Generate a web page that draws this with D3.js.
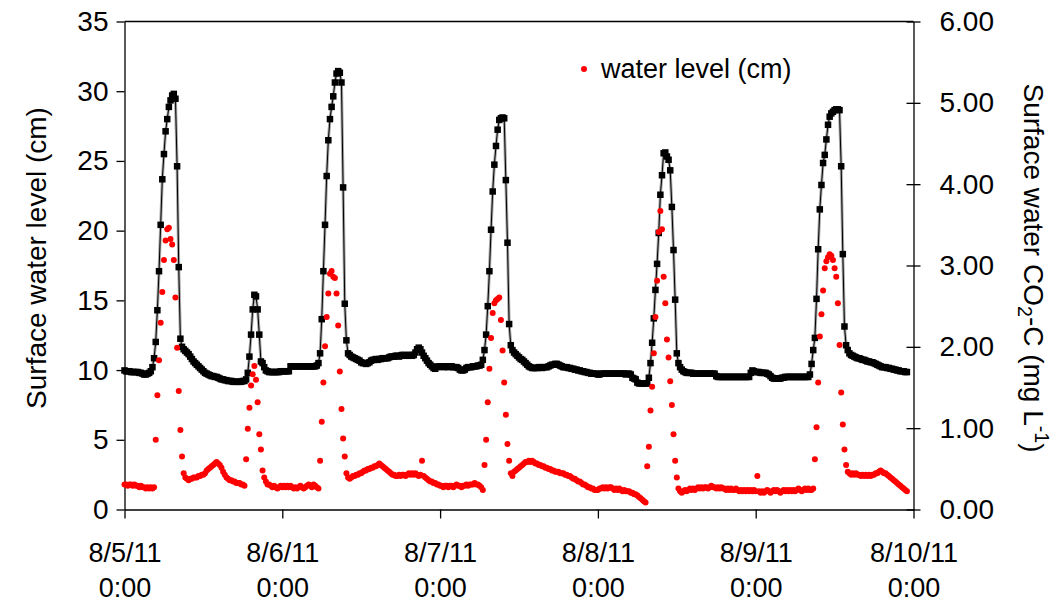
<!DOCTYPE html>
<html><head><meta charset="utf-8">
<script src="https://cdn.jsdelivr.net/npm/d3@7"></script>
<style>
body{margin:0;background:#fff}
text{font-family:"Liberation Sans",Arial,sans-serif;fill:#000}
</style>
</head><body>
<svg id="chart" width="1061" height="603"></svg>
<script>
// ---- data (15-minute readings from 8/5/11 0:00) ----
const startDate = new Date(2011, 7, 5, 0, 0);
const endDate = new Date(2011, 7, 10, 0, 0);
const stepMinutes = 15;
const dateLabels = ["8/5/11","8/6/11","8/7/11","8/8/11","8/9/11","8/10/11"];
const timeLabels = ["0:00","0:00","0:00","0:00","0:00","0:00"];
const leftTicks = [0,5,10,15,20,25,30,35];
const rightTicks = [0,1,2,3,4,5,6];
const legendLabel = "water level (cm)";

// surface water level (cm) – left axis, red dots
const waterLevel = [
1.8,1.8,1.7,1.8,1.8,1.7,1.8,1.7,1.7,1.6,
1.7,1.6,1.6,1.5,1.6,1.5,1.6,1.5,1.6,5.0,
8.2,10.7,13.4,15.6,17.9,19.3,20.1,20.2,19.4,19.0,
17.9,15.2,11.6,8.5,5.7,3.8,2.6,2.3,2.2,2.1,
2.2,2.2,2.3,2.3,2.3,2.4,2.4,2.5,2.5,2.6,
2.8,2.9,3.0,3.1,3.2,3.3,3.4,3.3,3.2,3.0,
2.7,2.5,2.3,2.2,2.1,2.1,2.0,2.0,1.9,1.9,
1.9,1.8,1.8,1.7,3.6,5.8,7.3,8.9,9.7,10.3,
9.3,7.7,5.4,4.3,2.8,2.3,2.0,1.8,1.8,1.7,
1.6,1.7,1.6,1.5,1.6,1.7,1.6,1.7,1.6,1.7,
1.6,1.7,1.6,1.5,1.6,1.5,1.6,1.7,1.6,1.5,
1.6,1.7,1.8,1.7,1.6,1.8,1.7,1.6,1.5,3.5,
6.3,9.1,11.7,13.8,15.5,16.9,17.1,16.7,16.6,15.5,
13.2,9.9,7.2,5.1,3.8,2.6,2.3,2.2,2.3,2.4,
2.4,2.5,2.5,2.6,2.6,2.7,2.8,2.8,2.9,2.9,
3.0,3.0,3.1,3.1,3.2,3.3,3.2,3.1,3.0,2.9,
2.8,2.7,2.6,2.5,2.5,2.4,2.4,2.5,2.4,2.5,
2.5,2.4,2.5,2.6,2.5,2.6,2.5,2.6,2.5,2.4,
2.5,3.5,2.4,2.3,2.2,2.1,2.0,2.0,1.9,1.9,
1.8,1.8,1.7,1.7,1.6,1.7,1.7,1.6,1.7,1.7,
1.6,1.7,1.8,1.7,1.7,1.6,1.7,1.7,1.8,1.7,
1.8,1.8,1.8,1.9,1.8,1.8,1.7,1.6,1.4,3.2,
5.0,7.7,10.1,12.3,14.1,14.8,15.0,15.1,15.2,13.6,
11.4,9.1,6.8,4.7,3.5,2.6,2.4,2.7,2.8,2.9,
3.0,3.1,3.2,3.3,3.4,3.4,3.5,3.4,3.5,3.4,
3.3,3.3,3.2,3.2,3.1,3.1,3.0,3.0,2.9,2.9,
2.8,2.8,2.7,2.7,2.7,2.6,2.6,2.6,2.5,2.5,
2.4,2.4,2.3,2.2,2.2,2.1,2.0,2.0,1.9,1.8,
1.8,1.7,1.6,1.6,1.5,1.5,1.4,1.4,1.4,1.5,
1.5,1.6,1.5,1.6,1.5,1.6,1.6,1.5,1.4,1.5,
1.4,1.5,1.4,1.3,1.4,1.3,1.3,1.3,1.2,1.2,
1.1,1.1,1.0,0.9,0.8,0.7,0.6,0.5,3.1,4.5,
7.1,8.8,11.2,13.8,16.4,19.9,21.4,20.1,16.7,14.8,
12.2,10.9,9.2,7.5,5.4,3.5,2.3,1.5,1.3,1.2,
1.3,1.4,1.3,1.4,1.5,1.4,1.5,1.4,1.5,1.6,
1.5,1.6,1.5,1.6,1.6,1.5,1.6,1.7,1.6,1.6,
1.5,1.6,1.5,1.6,1.5,1.5,1.4,1.5,1.4,1.5,
1.4,1.4,1.5,1.4,1.3,1.4,1.3,1.4,1.3,1.4,
1.3,1.4,1.3,1.4,1.3,2.4,1.3,1.2,1.3,1.2,
1.3,1.4,1.3,1.2,1.3,1.4,1.3,1.4,1.3,1.2,
1.3,1.4,1.3,1.4,1.3,1.4,1.3,1.4,1.3,1.4,
1.5,1.4,1.3,1.4,1.5,1.4,1.5,1.4,1.4,1.5,
3.6,5.9,9.1,12.4,14.0,15.7,17.3,17.8,18.1,18.3,
18.2,17.9,17.3,16.7,14.8,11.8,8.4,6.1,4.3,3.2,
2.7,2.6,2.5,2.6,2.5,2.6,2.5,2.5,2.4,2.5,
2.4,2.5,2.4,2.5,2.4,2.5,2.5,2.6,2.6,2.7,
2.8,2.7,2.6,2.6,2.5,2.4,2.3,2.2,2.1,2.0,
1.9,1.8,1.7,1.6,1.5,1.4,1.3
];

// surface water CO2-C (mg L-1) – right axis, black squares
const co2C = [
1.71,1.70,1.70,1.70,1.69,1.69,1.69,1.69,1.69,1.68,
1.68,1.67,1.66,1.66,1.67,1.68,1.70,1.75,1.86,2.06,
2.45,2.93,3.50,4.06,4.37,4.65,4.80,4.95,5.03,5.09,
5.11,5.05,4.22,2.98,2.10,2.00,1.97,1.95,1.93,1.91,
1.88,1.85,1.82,1.80,1.78,1.76,1.74,1.72,1.70,1.68,
1.67,1.66,1.65,1.64,1.64,1.63,1.63,1.62,1.61,1.60,
1.60,1.59,1.59,1.58,1.58,1.58,1.57,1.57,1.57,1.57,
1.57,1.57,1.58,1.58,1.60,1.68,1.88,2.15,2.46,2.64,
2.62,2.46,2.15,1.82,1.80,1.75,1.71,1.70,1.69,1.69,
1.69,1.69,1.69,1.69,1.69,1.70,1.70,1.70,1.70,1.70,
1.70,1.76,1.76,1.76,1.76,1.76,1.76,1.76,1.76,1.76,
1.76,1.76,1.76,1.76,1.76,1.76,1.76,1.77,1.80,1.92,
2.34,2.93,3.50,4.10,4.54,4.80,4.95,5.08,5.25,5.36,
5.39,5.37,5.25,3.96,2.53,2.08,1.92,1.90,1.88,1.87,
1.86,1.85,1.84,1.83,1.81,1.80,1.80,1.79,1.80,1.81,
1.83,1.84,1.84,1.85,1.84,1.85,1.85,1.86,1.86,1.86,
1.86,1.87,1.88,1.88,1.88,1.89,1.89,1.88,1.89,1.90,
1.90,1.89,1.89,1.90,1.90,1.89,1.90,1.93,1.97,1.99,
1.97,1.93,1.89,1.86,1.83,1.80,1.78,1.76,1.74,1.73,
1.75,1.76,1.76,1.76,1.75,1.76,1.76,1.75,1.76,1.76,
1.75,1.75,1.75,1.74,1.72,1.71,1.71,1.72,1.74,1.75,
1.75,1.75,1.76,1.76,1.76,1.77,1.77,1.78,1.84,1.96,
2.15,2.50,2.93,3.44,3.91,4.24,4.47,4.67,4.79,4.81,
4.82,4.81,4.05,3.28,2.28,2.02,1.96,1.93,1.91,1.89,
1.87,1.85,1.84,1.82,1.80,1.78,1.76,1.75,1.74,1.74,
1.74,1.74,1.75,1.75,1.74,1.75,1.75,1.75,1.76,1.77,
1.78,1.78,1.79,1.79,1.78,1.77,1.76,1.75,1.75,1.75,
1.74,1.74,1.73,1.73,1.72,1.72,1.71,1.71,1.70,1.70,
1.69,1.69,1.68,1.68,1.67,1.67,1.67,1.67,1.66,1.66,
1.67,1.67,1.67,1.67,1.67,1.67,1.67,1.67,1.67,1.67,
1.67,1.67,1.67,1.67,1.67,1.66,1.67,1.67,1.66,1.62,
1.61,1.60,1.56,1.55,1.55,1.55,1.55,1.55,1.55,1.62,
1.80,2.05,2.35,2.70,3.02,3.40,3.87,4.11,4.38,4.39,
4.34,4.30,4.17,3.72,3.19,2.58,1.92,1.80,1.75,1.72,
1.70,1.69,1.68,1.68,1.68,1.68,1.67,1.67,1.67,1.67,
1.67,1.67,1.67,1.67,1.67,1.67,1.67,1.67,1.67,1.67,
1.64,1.63,1.63,1.63,1.63,1.63,1.63,1.63,1.63,1.63,
1.63,1.63,1.63,1.63,1.63,1.63,1.63,1.63,1.63,1.63,
1.63,1.68,1.71,1.70,1.69,1.69,1.69,1.68,1.68,1.68,
1.68,1.67,1.66,1.64,1.62,1.61,1.61,1.61,1.61,1.61,
1.62,1.62,1.63,1.63,1.63,1.63,1.63,1.63,1.63,1.63,
1.63,1.63,1.63,1.63,1.63,1.63,1.63,1.66,1.79,1.96,
2.11,2.59,3.20,3.69,3.99,4.26,4.36,4.55,4.73,4.83,
4.87,4.89,4.91,4.92,4.92,4.91,4.22,3.14,2.25,2.02,
1.96,1.92,1.90,1.89,1.88,1.87,1.86,1.86,1.85,1.84,
1.84,1.83,1.82,1.82,1.81,1.81,1.80,1.79,1.78,1.77,
1.76,1.75,1.75,1.75,1.74,1.74,1.73,1.73,1.72,1.72,
1.71,1.71,1.70,1.70,1.70,1.69,1.69
];

// ---- layout ----
const L = 124.5, R = 913.5, T = 21.5, B = 509.5;
const FS = 27, FSY = 28, FST = 28;

const svg = d3.select("#chart");
const x = d3.scaleTime().domain([startDate, endDate]).range([L, R]);
const yL = d3.scaleLinear().domain([0, 35]).range([B, T]);
const yR = d3.scaleLinear().domain([0, 6]).range([B, T]);
const timeAt = i => d3.timeMinute.offset(startDate, i * stepMinutes);

const redPts = waterLevel.map((v, i) => ({t: timeAt(i), v}));
const blkPts = co2C.map((v, i) => ({t: timeAt(i), v}));

// frame top line
svg.append("line").attr("x1", L).attr("x2", R).attr("y1", T).attr("y2", T)
  .attr("stroke", "#000").attr("stroke-width", 1.3);

// left axis
const gL = svg.append("g").attr("transform", `translate(${L},0)`)
  .call(d3.axisLeft(yL).tickValues(leftTicks).tickSize(8).tickSizeOuter(0).tickPadding(8).tickFormat(d3.format("d")));
// right axis
const gR = svg.append("g").attr("transform", `translate(${R},0)`)
  .call(d3.axisRight(yR).tickValues(rightTicks).tickSize(7).tickSizeOuter(0).tickPadding(19).tickFormat(d3.format(".2f")));
gR.selectAll(".tick line").attr("x1", -7);
// bottom axis
const dayTicks = d3.timeDay.range(startDate, d3.timeDay.offset(endDate, 1));
const gB = svg.append("g").attr("transform", `translate(0,${B})`)
  .call(d3.axisBottom(x).tickValues(dayTicks).tickSize(9).tickSizeOuter(0).tickFormat(""));
gB.selectAll(".tick").each(function(d, i) {
  const g = d3.select(this);
  g.append("text").attr("y", 52).attr("text-anchor", "middle").attr("font-size", FS).text(dateLabels[i]);
  g.append("text").attr("y", 87).attr("text-anchor", "middle").attr("font-size", FS).text(timeLabels[i]);
});
[gL, gR, gB].forEach(g => {
  g.selectAll("path.domain").attr("stroke", "#000").attr("stroke-width", 1.3);
  g.selectAll(".tick line").attr("stroke", "#000").attr("stroke-width", 1.3);
  g.selectAll(".tick text").attr("font-family", "Liberation Sans, Arial, sans-serif").attr("fill", "#000");
});
gL.selectAll(".tick text").attr("font-size", FSY);
gR.selectAll(".tick text").attr("font-size", FSY);

// axis titles
svg.append("text").attr("transform", "translate(36,258) rotate(-90)")
  .attr("text-anchor", "middle").attr("dy", "0.35em").attr("font-size", FST)
  .text("Surface water level (cm)");
const rt = svg.append("text").attr("transform", "translate(1034,268) rotate(90)")
  .attr("text-anchor", "middle").attr("dy", "0.35em").attr("font-size", FST);
rt.append("tspan").text("Surface water CO");
rt.append("tspan").attr("font-size", FST * 0.7).attr("dy", 6).text("2");
rt.append("tspan").attr("dy", -6).text("-C (mg L");
rt.append("tspan").attr("font-size", FST * 0.7).attr("dy", -11).text("-1");
rt.append("tspan").attr("dy", 11).text(")");

// black series: line + squares (right axis)
const line = d3.line().x(d => x(d.t)).y(d => yR(d.v));
svg.append("path").datum(blkPts).attr("d", line).attr("fill", "none")
  .attr("stroke", "#a8a8a8").attr("stroke-width", 3);
svg.append("path").datum(blkPts).attr("d", line).attr("fill", "none")
  .attr("stroke", "#000").attr("stroke-width", 1);
const sq = 6.5;
svg.append("g").selectAll("rect").data(blkPts).join("rect")
  .attr("x", d => x(d.t) - sq / 2).attr("y", d => yR(d.v) - sq / 2)
  .attr("width", sq).attr("height", sq).attr("fill", "#000");

// red series: dots (left axis)
svg.append("g").selectAll("circle").data(redPts).join("circle")
  .attr("cx", d => x(d.t)).attr("cy", d => yL(d.v)).attr("r", 3)
  .attr("fill", "#ff0000");

// legend
svg.append("circle").attr("cx", 584).attr("cy", 69).attr("r", 3).attr("fill", "#ff0000");
svg.append("text").attr("x", 601).attr("y", 78).attr("font-size", 27).text(legendLabel);
</script>
</body></html>
